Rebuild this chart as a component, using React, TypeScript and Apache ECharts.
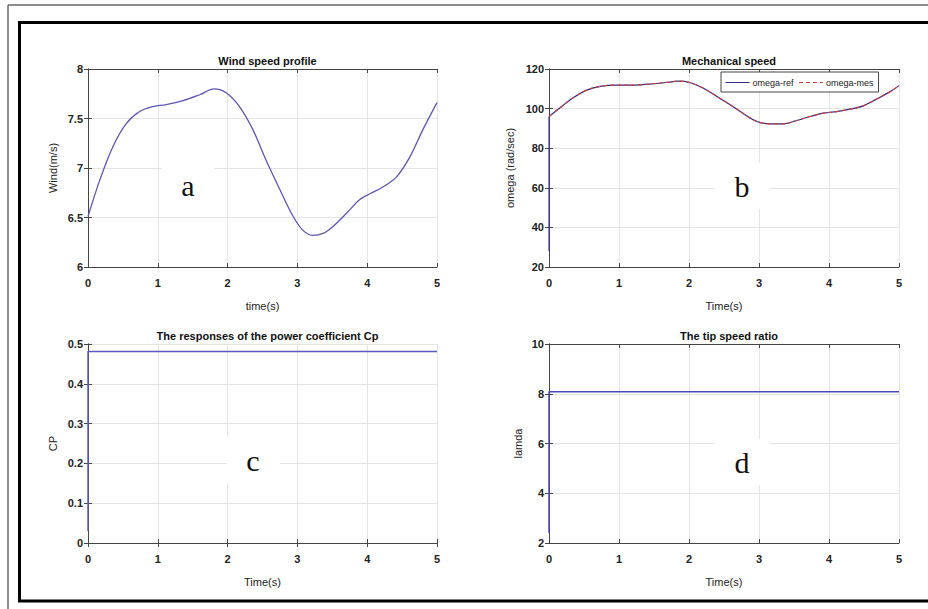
import React, { useEffect, useRef } from "react";
import * as echarts from "echarts";

// ---- Data ----
const timeTicks = [0, 1, 2, 3, 4, 5];

const windTime = [0, 0.17, 0.36, 0.55, 0.74, 0.93, 1.12, 1.36, 1.6, 1.81, 1.98, 2.17, 2.36, 2.55, 2.75, 2.94, 3.08, 3.22, 3.37, 3.51, 3.7, 3.89, 4.04, 4.23, 4.42, 4.61, 4.8, 5.0];
const windSpeed = [6.51, 6.88, 7.22, 7.45, 7.57, 7.62, 7.64, 7.68, 7.74, 7.8, 7.76, 7.62, 7.39, 7.08, 6.78, 6.51, 6.37, 6.32, 6.34, 6.41, 6.54, 6.68, 6.74, 6.81, 6.91, 7.11, 7.39, 7.66];

const omegaTime = [0, 0.15, 0.34, 0.53, 0.73, 0.96, 1.2, 1.44, 1.68, 1.85, 2.01, 2.2, 2.4, 2.59, 2.78, 2.97, 3.16, 3.35, 3.54, 3.73, 3.92, 4.11, 4.3, 4.49, 4.68, 4.88, 5.0];
const omegaRef = [96, 100.2, 105.3, 109.2, 111.2, 111.9, 111.9, 112.4, 113.2, 113.9, 113.2, 110.4, 106.1, 101.9, 97.4, 93.5, 92.3, 92.3, 94.0, 96.0, 97.7, 98.5, 99.7, 101.4, 104.8, 108.7, 111.6];
const omegaMes = [96, 100.2, 105.3, 109.2, 111.2, 111.9, 111.9, 112.4, 113.2, 113.9, 113.2, 110.4, 106.1, 101.9, 97.4, 93.5, 92.3, 92.3, 94.0, 96.0, 97.7, 98.5, 99.7, 101.4, 104.8, 108.7, 111.6];
const omegaStartTime = [0, 0];
const omegaStart = [28, 96];

const cpTime = [0, 0, 5];
const cpValues = [0.03, 0.481, 0.481];

const lamdaTime = [0, 0, 5];
const lamdaValues = [2.4, 8.08, 8.08];

const titles = ["Wind speed profile", "Mechanical speed", "The responses of the power coefficient Cp", "The tip speed ratio"];
const yNames = ["Wind(m/s)", "omega (rad/sec)", "CP", "lamda"];
const xNames = ["time(s)", "Time(s)", "Time(s)", "Time(s)"];
const yRanges = [
  { min: 6, max: 8, interval: 0.5 },
  { min: 20, max: 120, interval: 20 },
  { min: 0, max: 0.5, interval: 0.1 },
  { min: 2, max: 10, interval: 2 },
];
const panelLetters = ["a", "b", "c", "d"];
const legendNames = ["omega-ref", "omega-mes"];

const pair = (xs: number[], ys: number[]) => xs.map((x, i) => [x, ys[i]]);

const FONT = "Liberation Sans, Arial, sans-serif";
const grids = [
  { left: 88, top: 69, width: 349, height: 198 },
  { left: 549, top: 69, width: 350, height: 198 },
  { left: 88, top: 344, width: 349, height: 199 },
  { left: 549, top: 344, width: 350, height: 199 },
];
const yNameGaps = [30, 34, 30, 26];
const letterPos = [
  [188, 185],
  [742, 186],
  [253, 460],
  [742, 462],
];

export default function App() {
  const ref = useRef<HTMLDivElement>(null);
  useEffect(() => {
    if (!ref.current) return;
    const chart = echarts.init(ref.current, undefined, { renderer: "svg" });

    const xAxes: any[] = [];
    const yAxes: any[] = [];
    grids.forEach((g, i) => {
      xAxes.push({
        type: "value",
        gridIndex: i,
        min: 0,
        max: 5,
        interval: 1,
        name: xNames[i],
        nameLocation: "middle",
        nameGap: 33,
        nameTextStyle: { fontFamily: FONT, fontSize: 11, color: "#222" },
        axisLine: { show: true, lineStyle: { color: "#444", width: 1 } },
        axisTick: { show: true, inside: true, length: 4, lineStyle: { color: "#444" } },
        axisLabel: { fontFamily: FONT, fontSize: 11, color: "#222", margin: 10, fontWeight: "bold" },
        splitLine: { show: true, lineStyle: { color: "#e4e4e4", width: 1 } },
      });
      xAxes.push({
        type: "value",
        gridIndex: i,
        position: "top",
        min: 0,
        max: 5,
        interval: 1,
        axisLine: { show: true, lineStyle: { color: "#444", width: 1 } },
        axisTick: { show: true, inside: true, length: 4, lineStyle: { color: "#444" } },
        axisLabel: { show: false },
        splitLine: { show: false },
      });
      const r = yRanges[i];
      yAxes.push({
        type: "value",
        gridIndex: i,
        min: r.min,
        max: r.max,
        interval: r.interval,
        name: yNames[i],
        nameLocation: "middle",
        nameGap: yNameGaps[i],
        nameTextStyle: { fontFamily: FONT, fontSize: 11, color: "#222" },
        axisLine: { show: true, lineStyle: { color: "#444", width: 1 } },
        axisTick: { show: true, inside: true, length: 4, lineStyle: { color: "#444" } },
        axisLabel: { fontFamily: FONT, fontSize: 11, color: "#222", margin: 5, fontWeight: "bold" },
        splitLine: { show: true, lineStyle: { color: "#e4e4e4", width: 1 } },
      });
      yAxes.push({
        type: "value",
        gridIndex: i,
        position: "right",
        min: r.min,
        max: r.max,
        interval: r.interval,
        axisLine: { show: true, lineStyle: { color: "#444", width: 1 } },
        axisTick: { show: true, inside: true, length: 4, lineStyle: { color: "#444" } },
        axisLabel: { show: false },
        splitLine: { show: false },
      });
    });

    const lineBase = { type: "line", showSymbol: false, symbol: "none", clip: true };

    const option: any = {
      animation: false,
      backgroundColor: "#fff",
      title: grids.map((g, i) => ({
        text: titles[i],
        left: g.left + g.width / 2,
        top: g.top - 19,
        textAlign: "center",
        textStyle: { fontFamily: FONT, fontSize: 11, fontWeight: "bold", color: "#111" },
      })),
      grid: grids.map((g) => ({ ...g, containLabel: false })),
      xAxis: xAxes,
      yAxis: yAxes,
      legend: {
        data: legendNames,
        left: 721,
        top: 72,
        orient: "horizontal",
        itemWidth: 24,
        itemHeight: 10,
        itemGap: 5,
        padding: [6, 5, 5, 4],
        borderColor: "#444",
        borderWidth: 1,
        backgroundColor: "#fff",
        itemStyle: { opacity: 0, borderWidth: 0 },
        lineStyle: { width: 1 },
        textStyle: { fontFamily: FONT, fontSize: 9, color: "#222", padding: [0, 0, 0, -2] },
      },
      series: [
        {
          ...lineBase,
          name: "wind",
          xAxisIndex: 0,
          yAxisIndex: 0,
          smooth: 0.35,
          data: pair(windTime, windSpeed),
          lineStyle: { color: "#5c56b0", width: 1.3 },
          itemStyle: { color: "#5c56b0" },
        },
        {
          ...lineBase,
          name: "omega-start",
          xAxisIndex: 2,
          yAxisIndex: 2,
          data: pair(omegaStartTime, omegaStart),
          lineStyle: { color: "#3a3aa0", width: 1.2 },
          itemStyle: { color: "#3a3aa0" },
        },
        {
          ...lineBase,
          name: "omega-ref",
          xAxisIndex: 2,
          yAxisIndex: 2,
          smooth: 0.35,
          data: pair(omegaTime, omegaRef),
          lineStyle: { color: "#2c2c90", width: 1.2 },
          itemStyle: { color: "#2c2c90" },
        },
        {
          ...lineBase,
          name: "omega-mes",
          xAxisIndex: 2,
          yAxisIndex: 2,
          smooth: 0.35,
          data: pair(omegaTime, omegaMes),
          lineStyle: { color: "#d0403a", width: 1.2, type: [4, 3] },
          itemStyle: { color: "#d0403a" },
        },
        {
          ...lineBase,
          name: "cp",
          xAxisIndex: 4,
          yAxisIndex: 4,
          data: pair(cpTime, cpValues),
          lineStyle: { color: "#5a5ac4", width: 1.5 },
          itemStyle: { color: "#5a5ac4" },
        },
        {
          ...lineBase,
          name: "lamda",
          xAxisIndex: 6,
          yAxisIndex: 6,
          data: pair(lamdaTime, lamdaValues),
          lineStyle: { color: "#4848b8", width: 1.5 },
          itemStyle: { color: "#4848b8" },
        },
      ],
      graphic: [
        {
          type: "line",
          shape: { x1: 8, y1: 5, x2: 928, y2: 5 },
          style: { stroke: "#666", lineWidth: 1.5 },
          silent: true,
        },
        {
          type: "line",
          shape: { x1: 8, y1: 5, x2: 8, y2: 609 },
          style: { stroke: "#666", lineWidth: 1.5 },
          silent: true,
        },
        {
          type: "polyline",
          shape: { points: [[928, 22.5], [19.5, 22.5], [19.5, 601], [928, 601]] },
          style: { stroke: "#000", lineWidth: 3, fill: "none" },
          silent: true,
        },
        ...panelLetters.map((l, i) => ({
          type: "text",
          x: letterPos[i][0],
          y: letterPos[i][1],
          z: 10,
          style: {
            text: l,
            fontFamily: "Liberation Serif, Times New Roman, serif",
            fontSize: 30,
            fill: "#111",
            align: "center",
            verticalAlign: "middle",
            backgroundColor: "#fff",
            padding: [8, 20, 8, 20],
          },
        })),
      ],
    };
    chart.setOption(option);
    return () => chart.dispose();
  }, []);
  return (
    <div
      ref={ref}
      style={{ position: "fixed", left: 0, top: 0, width: 928, height: 609, background: "#fff" }}
    />
  );
}
